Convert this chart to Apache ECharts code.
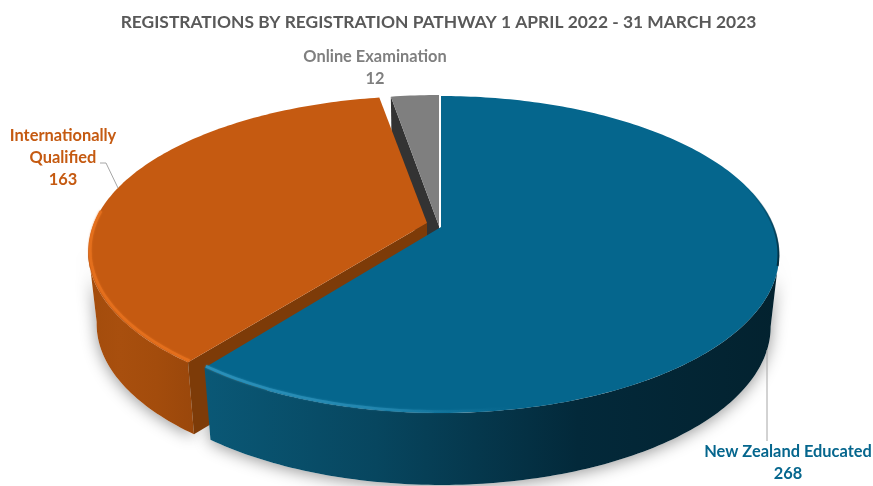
<!DOCTYPE html>
<html>
<head>
<meta charset="utf-8">
<style>
  html, body { margin: 0; padding: 0; background: #fff; }
  #chart { width: 873px; height: 486px; }
</style>
<script src="https://cdn.jsdelivr.net/npm/echarts@6/dist/echarts.min.js"></script>
</head>
<body>
<div id="chart"></div>
<script>
var chartTitle = 'REGISTRATIONS BY REGISTRATION PATHWAY 1 APRIL 2022 - 31 MARCH 2023';
var categories = ['New Zealand Educated', 'Internationally Qualified', 'Online Examination'];
var values = [268, 163, 12];

// look of the 3d pie, no data in here
var FONT = 'Lato, "Open Sans", sans-serif';
var TILT = -0.1735, SCALE_X = 333, SCALE_Y = 153.7;
var DEPTH = 72, BOTTOM_X = 0.975;
var WALL_FROM = 100, WALL_TO = 260; // part of the outer wall facing the camera
var slices = [
  {
    apex: [441, 227], z: 30, top: '#05668d', text: '#05668d', wall: ['#0a5876', '#07465f', '#03293a', '#03222f'],
    rim: [217.8, 170, '#2a8fb8'], labelLines: ['New Zealand Educated', '268'], labelAt: [788, 452],
    leader: [[767, 350], [767, 441]]
  },
  {
    apex: [427, 223], z: 20, top: '#c55a11', text: '#c55a11', wall: ['#a34c0c', '#a84f0e', '#a34c0c', '#9a470b'],
    tilt: -0.185, scaleY: 150.5,
    side: '#7d3b08', rim: [217.8, 274, '#e46f1c'], labelLines: ['Internationally', 'Qualified', '163'], labelAt: [63, 136],
    leader: [[100, 163], [106, 163], [118, 188]]
  },
  {
    apex: [439, 226], z: 10, top: '#7f7f7f', text: '#7f7f7f', wall: ['#333', '#333', '#333', '#333'],
    side: '#333333', labelLines: ['Online Examination', '12'], labelAt: [375, 57]
  }
];

function total() {
  return values.reduce(function (a, b) { return a + b; }, 0);
}

// perspective projection of the unit disc, angle in degrees clockwise from 12 o'clock
function project(deg, s, scaleX, dy) {
  var a = deg * Math.PI / 180;
  var u = Math.sin(a), v = -Math.cos(a);
  var w = 1 + (s.tilt || TILT) * v;
  return [s.apex[0] + scaleX * SCALE_X * u / w, s.apex[1] + dy + (s.scaleY || SCALE_Y) * v / w];
}

function arc(from, to, s, scaleX, dy) {
  var pts = [], n = Math.max(2, Math.ceil(Math.abs(to - from)));
  for (var i = 0; i <= n; i++) {
    pts.push(project(from + (to - from) * i / n, s, scaleX, dy));
  }
  return pts;
}

function renderSlice(params, api) {
  var i = params.dataIndex, s = slices[i];
  var start = 0;
  for (var k = 0; k < i; k++) start += values[k];
  var a0 = start / total() * 360;
  var a1 = a0 + api.value(0) / total() * 360;

  var topArc = arc(a0, a1, s, 1, 0);
  var kids = [];

  var w0 = Math.max(a0, WALL_FROM), w1 = Math.min(a1, WALL_TO);
  if (w1 > w0) {
    var wallPts = arc(w0, w1, s, 1, 0).concat(arc(w1, w0, s, BOTTOM_X, DEPTH));
    // soft shadow on the floor, below every slice
    kids.push({
      type: 'polygon', shape: { points: wallPts }, z2: 0,
      style: { fill: '#fff', shadowBlur: 16, shadowColor: 'rgba(0,0,0,0.42)', shadowOffsetY: 2 }
    });
    var w = s.wall;
    kids.push({
      type: 'polygon', shape: { points: wallPts }, z2: s.z,
      style: {
        fill: new echarts.graphic.LinearGradient(0, 0, 1, 0, [
          { offset: 0, color: w[0] }, { offset: 0.3, color: w[1] },
          { offset: 0.65, color: w[2] }, { offset: 1, color: w[3] }
        ])
      }
    });
  }

  // cut face of the slice, seen from the front
  if (s.side) {
    kids.push({
      type: 'polygon', z2: s.z + 1,
      shape: { points: [s.apex, topArc[0], project(a0, s, BOTTOM_X, DEPTH), [s.apex[0], s.apex[1] + DEPTH]] },
      style: { fill: s.side }
    });
  }

  kids.push({
    type: 'polygon', z2: s.z + 2,
    shape: { points: [s.apex].concat(topArc) },
    style: { fill: s.top }
  });

  // bevel highlight along the front edge
  if (s.rim) {
    kids.push({
      type: 'polyline', z2: s.z + 3,
      shape: { points: arc(s.rim[0], s.rim[1], s, 0.994, -1.5) },
      style: {
        fill: 'none', lineWidth: 2.6, shadowBlur: 2, shadowColor: s.rim[2],
        stroke: new echarts.graphic.LinearGradient(0, 0, 1, 0, i === 0 ? [
          { offset: 0, color: s.rim[2] }, { offset: 0.6, color: 'rgba(42,143,184,0.55)' }, { offset: 1, color: 'rgba(5,102,141,0)' }
        ] : [
          { offset: 0, color: s.rim[2] }, { offset: 1, color: s.rim[2] }
        ])
      }
    });
  }

  // dark fringe where the blue top turns away on the right
  if (i === 0) {
    kids.push({
      type: 'polyline', z2: s.z + 3,
      shape: { points: arc(75, 104, s, 0.998, 0) },
      style: {
        fill: 'none', lineWidth: 2,
        stroke: new echarts.graphic.LinearGradient(0, 0, 0, 1, [
          { offset: 0, color: 'rgba(3,34,47,0)' }, { offset: 1, color: 'rgba(3,34,47,0.9)' }
        ])
      }
    });
  }

  if (s.leader) {
    kids.push({
      type: 'polyline', z2: 40, shape: { points: s.leader },
      style: { fill: 'none', stroke: '#a6a6a6', lineWidth: 1 }
    });
  }

  s.labelLines.forEach(function (line, n) {
    kids.push({
      type: 'text', z2: 41,
      style: {
        text: line, x: s.labelAt[0], y: s.labelAt[1] + n * 22,
        fill: s.text, font: 'bold 16.4px ' + FONT,
        align: 'center', verticalAlign: 'middle'
      }
    });
  });

  return { type: 'group', children: kids };
}

var chart = echarts.init(document.getElementById('chart'), null, { renderer: 'canvas' });
chart.setOption({
  animation: false,
  backgroundColor: '#fff',
  title: {
    text: chartTitle, left: 433.5, top: 9, textAlign: 'center',
    textStyle: { color: '#595959', fontFamily: FONT, fontWeight: 'bold', fontSize: 17.4 }
  },
  series: [{
    type: 'custom',
    coordinateSystem: 'none',
    renderItem: renderSlice,
    data: categories.map(function (name, i) { return { name: name, value: [values[i]] }; })
  }]
});
</script>
</body>
</html>
